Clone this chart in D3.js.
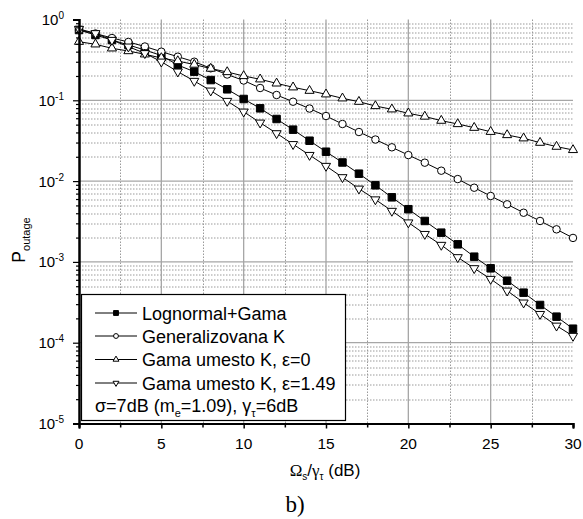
<!DOCTYPE html>
<html>
<head>
<meta charset="utf-8">
<script src="https://cdn.jsdelivr.net/npm/d3@7"></script>
<style>
	body { margin: 0; background: #fff; }
	svg { font-family: "Liberation Sans", Arial, Helvetica, sans-serif; }
</style>
</head>
<body>
<div id="container"></div>
<script>
/* Data: outage probability vs. normalised SNR */
var snrDb = [0, 1, 2, 3, 4, 5, 6, 7, 8, 9, 10, 11, 12, 13, 14, 15,
	16, 17, 18, 19, 20, 21, 22, 23, 24, 25, 26, 27, 28, 29, 30];

var lognormalGama = [0.741, 0.643, 0.557, 0.484, 0.419, 0.358, 0.273, 0.226, 0.178, 0.1368,
	0.1038, 0.0796, 0.0587, 0.0433, 0.0316, 0.0231, 0.0170, 0.01235, 0.00887, 0.0063,
	0.00449, 0.00321, 0.0023, 0.00165, 0.00116, 0.000833, 0.000585, 0.000416, 0.000293, 0.00021,
	0.000149];

var generalizovanaK = [0.741, 0.671, 0.590, 0.527, 0.463, 0.3995, 0.3464, 0.3003, 0.249, 0.2086,
	0.1758, 0.142, 0.1163, 0.0961, 0.0791, 0.0639, 0.0509, 0.0405, 0.0327, 0.0262,
	0.0210, 0.0169, 0.01345, 0.0106, 0.00828, 0.00654, 0.00516, 0.00406, 0.00321, 0.00253,
	0.00198];

var gamaEps0 = [0.531, 0.493, 0.440, 0.407, 0.371, 0.334, 0.306, 0.277, 0.247, 0.224,
	0.200, 0.182, 0.162, 0.145, 0.1315, 0.1187, 0.1059, 0.0961, 0.0850, 0.0774,
	0.069, 0.063, 0.056, 0.0509, 0.0458, 0.0408, 0.0372, 0.0339, 0.0299, 0.0267,
	0.0243];

var gamaEps149 = [0.763, 0.675, 0.557, 0.461, 0.382, 0.3003, 0.226, 0.1733, 0.1315, 0.098,
	0.0722, 0.0528, 0.039, 0.0286, 0.021, 0.01538, 0.01114, 0.00805, 0.00592, 0.00427,
	0.00307, 0.00221, 0.00162, 0.00114, 0.000833, 0.000614, 0.00044, 0.000313, 0.000226, 0.000162,
	0.000121];

var seriesNames = ['Lognormal+Gama', 'Generalizovana K', 'Gama umesto K, \u03b5=0', 'Gama umesto K, \u03b5=1.49'];
var xTicks = [0, 5, 10, 15, 20, 25, 30];
var xMinorTicks = [2.5, 7.5, 12.5, 17.5, 22.5, 27.5];
var yDecades = [1e-5, 1e-4, 1e-3, 1e-2, 1e-1, 1];
var yExponents = ['-5', '-4', '-3', '-2', '-1', '0'];

var w = 583, h = 519;
var margin = {top: 19.5, right: 10, bottom: 95.5, left: 79};
var width = w - margin.left - margin.right,
	height = h - margin.top - margin.bottom;

var series = [
	{name: seriesNames[0], values: lognormalGama, symbol: d3.symbolSquare, size: 56, fill: '#000', rotate: 0},
	{name: seriesNames[1], values: generalizovanaK, symbol: d3.symbolCircle, size: 44, fill: '#fff', rotate: 0},
	{name: seriesNames[2], values: gamaEps0, symbol: d3.symbolTriangle, size: 36, fill: '#fff', rotate: 0},
	{name: seriesNames[3], values: gamaEps149, symbol: d3.symbolTriangle, size: 36, fill: '#fff', rotate: 180}
];

var svg = d3.select('#container').append('svg')
	.attr('width', w)
	.attr('height', h);

var chart = svg.append('g')
	.attr('transform', 'translate(' + margin.left + ',' + margin.top + ')');

/* Scales */
var xScale = d3.scaleLinear().domain([0, 30]).range([0, width]);
var yScale = d3.scaleLog().domain([1e-5, 1]).range([height, 0]);

var yMinor = yScale.ticks().filter(v => yDecades.indexOf(v) < 0);

/* Grid */
var grid = chart.append('g').classed('grid', true);

grid.selectAll('.ymin').data(yMinor).enter().append('line')
	.attr('x1', 0).attr('x2', width)
	.attr('y1', d => Math.round(yScale(d)) + 0.5).attr('y2', d => Math.round(yScale(d)) + 0.5)
	.attr('stroke', '#9a9a9a').attr('stroke-dasharray', '1.5,1.5');

grid.selectAll('.xmin').data(xMinorTicks).enter().append('line')
	.attr('x1', d => Math.round(xScale(d)) + 0.5).attr('x2', d => Math.round(xScale(d)) + 0.5)
	.attr('y1', 0).attr('y2', height)
	.attr('stroke', '#9a9a9a').attr('stroke-dasharray', '1.5,1.5');

grid.selectAll('.ymaj').data(yDecades.slice(1, 5)).enter().append('line')
	.attr('x1', 0).attr('x2', width)
	.attr('y1', d => yScale(d)).attr('y2', d => yScale(d))
	.attr('stroke', '#a6a6a6').attr('stroke-width', 1.3);

grid.selectAll('.xmaj').data(xTicks.slice(1, 6)).enter().append('line')
	.attr('x1', d => xScale(d)).attr('x2', d => xScale(d))
	.attr('y1', 0).attr('y2', height)
	.attr('stroke', '#a6a6a6').attr('stroke-width', 1.3);

/* Curves */
var line = d3.line()
	.x((d, i) => xScale(snrDb[i]))
	.y(d => yScale(d));

series.forEach(function (s) {
	chart.append('path')
		.attr('d', line(s.values))
		.attr('fill', 'none')
		.attr('stroke', '#000')
		.attr('stroke-width', 1);

	chart.selectAll(null).data(s.values).enter().append('path')
		.attr('d', d3.symbol().type(s.symbol).size(s.size))
		.attr('transform', (d, i) => 'translate(' + xScale(snrDb[i]) + ',' + yScale(d) + ') rotate(' + s.rotate + ')')
		.attr('fill', s.fill)
		.attr('stroke', '#000')
		.attr('stroke-width', 1);
});

/* Axes */
var xAxis = d3.axisBottom(xScale).tickValues(xTicks).tickSize(5).tickFormat('');
var xAxisMinor = d3.axisBottom(xScale).tickValues(xMinorTicks).tickSize(4).tickFormat('');
var yAxis = d3.axisLeft(yScale).tickValues(yDecades).tickSize(6).tickFormat('');
var yAxisMinor = d3.axisLeft(yScale).tickValues(yMinor).tickSize(3).tickFormat('');

[xAxis, xAxisMinor].forEach(function (ax) {
	chart.append('g')
		.attr('transform', 'translate(0,' + height + ')')
		.call(ax)
		.call(g => g.select('.domain').attr('stroke-width', 2))
		.selectAll('line').attr('stroke-width', 1.5);
});
[yAxis, yAxisMinor].forEach(function (ax) {
	chart.append('g')
		.call(ax)
		.call(g => g.select('.domain').attr('stroke-width', 2))
		.selectAll('line').attr('stroke-width', 1.2);
});

/* Tick labels */
chart.selectAll('.xlab').data(xTicks).enter().append('text')
	.attr('x', d => xScale(d))
	.attr('y', height + 25)
	.attr('text-anchor', 'middle')
	.style('font-size', '15.5px')
	.text(d => d);

var yLabels = chart.selectAll('.ylab').data(yDecades).enter().append('text')
	.attr('x', -15)
	.attr('y', d => yScale(d) + 5.5)
	.attr('text-anchor', 'end')
	.style('font-size', '15px');
yLabels.append('tspan').text('10');
yLabels.append('tspan')
	.attr('dy', -6)
	.style('font-size', '10px')
	.text((d, i) => yExponents[i]);

/* Axis titles */
var xTitle = svg.append('text')
	.attr('x', 325)
	.attr('y', 476)
	.attr('text-anchor', 'middle')
	.style('font-size', '17px');
xTitle.append('tspan').style('font-family', '"Liberation Serif", serif').text('\u03a9');
xTitle.append('tspan').attr('dy', 4).style('font-size', '10px').text('s');
xTitle.append('tspan').attr('dy', -4).text('/');
xTitle.append('tspan').style('font-family', '"Liberation Serif", serif').text('\u03b3');
xTitle.append('tspan').attr('dy', 4).style('font-size', '10px').text('\u03c4');
xTitle.append('tspan').attr('dy', -4).text(' (dB)');

var yTitle = svg.append('text')
	.attr('transform', 'translate(25,' + 240 + ') rotate(-90)')
	.attr('text-anchor', 'middle')
	.style('font-size', '17.5px');
yTitle.append('tspan').text('P');
yTitle.append('tspan').attr('dy', 5).style('font-size', '11px').text('outage');

svg.append('text')
	.attr('x', 295)
	.attr('y', 512)
	.attr('text-anchor', 'middle')
	.style('font-family', '"Liberation Serif", "Times New Roman", serif')
	.style('font-size', '23px')
	.text('b)');

/* Legend */
var legend = svg.append('g').classed('legend', true);
legend.append('rect')
	.attr('x', 81.5).attr('y', 294.5)
	.attr('width', 264).attr('height', 126)
	.attr('fill', '#fff')
	.attr('stroke', '#000')
	.attr('stroke-width', 1.2);

var rowY = [313, 336, 359.5, 383];
series.forEach(function (s, i) {
	var row = legend.append('g').attr('transform', 'translate(0,' + rowY[i] + ')');
	row.append('line')
		.attr('x1', 95).attr('x2', 137)
		.attr('stroke', '#000').attr('stroke-width', 1);
	row.append('path')
		.attr('d', d3.symbol().type(s.symbol).size(s.size * 0.42))
		.attr('transform', 'translate(116,0) rotate(' + s.rotate + ')')
		.attr('fill', s.fill)
		.attr('stroke', '#000')
		.attr('stroke-width', 1);
	row.append('text')
		.attr('x', 142)
		.attr('y', 6.5)
		.style('font-size', '18px')
		.text(s.name);
});

var note = legend.append('text')
	.attr('x', 95)
	.attr('y', 412)
	.style('font-size', '18px');
note.append('tspan').text('\u03c3=7dB (m');
note.append('tspan').attr('dy', 5).style('font-size', '11px').text('e');
note.append('tspan').attr('dy', -5).text('=1.09), \u03b3');
note.append('tspan').attr('dy', 5).style('font-size', '11px').text('\u03c4');
note.append('tspan').attr('dy', -5).text('=6dB');
</script>
</body>
</html>
